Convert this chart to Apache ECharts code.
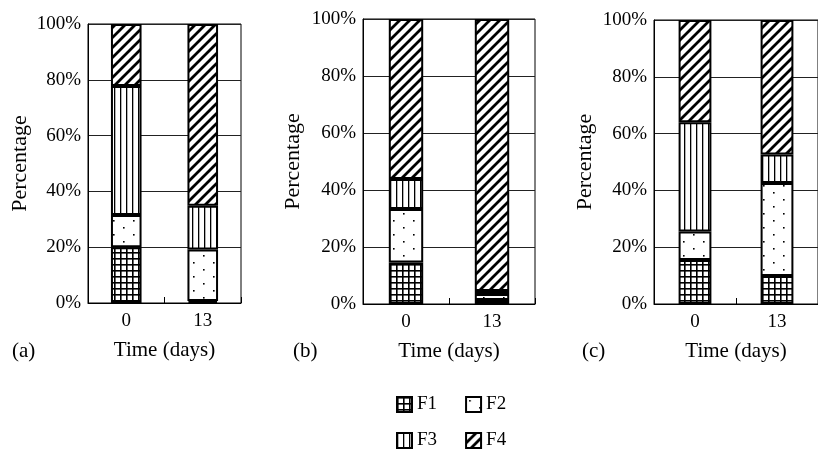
<!DOCTYPE html>
<html>
<head>
<meta charset="utf-8">
<script src="https://cdn.jsdelivr.net/npm/echarts@6/dist/echarts.min.js"></script>
<style>
html,body{margin:0;padding:0;background:#fff;}
#chart{width:818px;height:453px;}
</style>
</head>
<body>
<div id="chart"></div>
<script>
// ---- data ----
var categories = ['0', '13'];
var yTicks = ['0%', '20%', '40%', '60%', '80%', '100%'];
var panelLabels = ['(a)', '(b)', '(c)'];
var fractionNames = ['F1', 'F2', 'F3', 'F4'];
// panel (a)
var a_F1 = [20.0, 0.7];
var a_F2 = [11.5, 18.5];
var a_F3 = [46.3, 15.7];
var a_F4 = [22.2, 65.1];
// panel (b)
var b_F1 = [14.6, 1.4];
var b_F2 = [18.7, 2.1];
var b_F3 = [10.6, 1.1];
var b_F4 = [56.1, 95.4];
// panel (c)
var c_F1 = [15.5, 9.9];
var c_F2 = [10.0, 32.7];
var c_F3 = [38.5, 10.0];
var c_F4 = [36.0, 47.4];

var panels = [
  [a_F1, a_F2, a_F3, a_F4],
  [b_F1, b_F2, b_F3, b_F4],
  [c_F1, c_F2, c_F3, c_F4]
];

// ---- patterns ----
function makeCanvas(w, h) {
  var c = document.createElement('canvas');
  c.width = w; c.height = h;
  var ctx = c.getContext('2d');
  ctx.fillStyle = '#fff';
  ctx.fillRect(0, 0, w, h);
  ctx.fillStyle = '#000';
  ctx.strokeStyle = '#000';
  return [c, ctx];
}
function patGrid() {
  var r = makeCanvas(6, 6), ctx = r[1];
  ctx.fillRect(0, 0, 6, 1.6);
  ctx.fillRect(0, 0, 1.6, 6);
  return r[0];
}
function patDots() {
  var r = makeCanvas(20, 14), ctx = r[1];
  ctx.fillRect(3, 3, 1.6, 1.6);
  ctx.fillRect(13, 10, 1.6, 1.6);
  return r[0];
}
function patVert() {
  var r = makeCanvas(6, 6), ctx = r[1];
  ctx.fillRect(0, 0, 1.3, 6);
  return r[0];
}
function patDiag() {
  var r = makeCanvas(10, 10), ctx = r[1];
  ctx.lineWidth = 2.8;
  ctx.beginPath();
  ctx.moveTo(-2, 12); ctx.lineTo(12, -2);
  ctx.moveTo(-2, 2); ctx.lineTo(2, -2);
  ctx.moveTo(8, 12); ctx.lineTo(12, 8);
  ctx.stroke();
  return r[0];
}
var patterns = [patGrid(), patDots(), patVert(), patDiag()];

var FONT = '"Liberation Serif", "Times New Roman", serif';

// ---- layout ----
var gridPos = [
  {left: 88, right: 577, top: 24, bottom: 150},
  {left: 363, right: 283, top: 19, bottom: 149},
  {left: 654, right: -8, top: 20, bottom: 149}
];
var yNameGap = [57, 59, 58];
var labelLeft = [7, 288, 577];

var grids = [], xAxes = [], yAxes = [], series = [], titles = [];
for (var p = 0; p < 3; p++) {
  grids.push(Object.assign({
    show: true, borderColor: '#000', borderWidth: 1, backgroundColor: 'transparent', containLabel: false
  }, gridPos[p]));
  xAxes.push({
    type: 'category', gridIndex: p, data: categories,
    name: 'Time (days)', nameLocation: 'middle', nameGap: 37,
    nameTextStyle: {fontFamily: FONT, fontSize: 21, color: '#000'},
    axisLine: {lineStyle: {color: '#000', width: 1}},
    axisTick: {show: true, inside: true, length: 6, lineStyle: {color: '#000'}},
    axisLabel: {fontFamily: FONT, fontSize: 19, color: '#000', margin: 9}
  });
  yAxes.push({
    type: 'value', gridIndex: p, min: 0, max: 100, interval: 20,
    name: 'Percentage', nameLocation: 'middle', nameGap: yNameGap[p],
    nameTextStyle: {fontFamily: FONT, fontSize: 22, color: '#000'},
    axisLine: {show: true, lineStyle: {color: '#000', width: 1}},
    axisTick: {show: false},
    axisLabel: {fontFamily: FONT, fontSize: 19, color: '#000', margin: 7,
      formatter: function (v) { return yTicks[Math.round(v / 20)]; }},
    splitLine: {show: true, lineStyle: {color: '#222', width: 1}}
  });
  for (var k = 0; k < 4; k++) {
    series.push({
      type: 'bar', name: fractionNames[k], stack: 'panel' + p,
      xAxisIndex: p, yAxisIndex: p, barWidth: '40%',
      data: panels[p][k],
      itemStyle: {color: {image: patterns[k], repeat: 'repeat'}, borderColor: '#000', borderWidth: 2},
      emphasis: {disabled: true},
      animation: false
    });
  }
  titles.push({
    text: panelLabels[p], left: labelLeft[p], top: 336,
    textStyle: {fontFamily: FONT, fontSize: 21, fontWeight: 'normal', color: '#000'}
  });
}

var legendCommon = {
  icon: 'rect', itemWidth: 15, itemHeight: 15, itemGap: 28,
  textStyle: {fontFamily: FONT, fontSize: 19, color: '#000'},
  itemStyle: {borderColor: '#000', borderWidth: 2},
  selectedMode: false
};
var legends = [
  Object.assign({data: ['F1', 'F2'], left: 391, top: 390}, legendCommon),
  Object.assign({data: ['F3', 'F4'], left: 391, top: 426}, legendCommon)
];

var chart = echarts.init(document.getElementById('chart'), null, {renderer: 'canvas'});
chart.setOption({
  animation: false,
  backgroundColor: '#fff',
  title: titles,
  grid: grids,
  xAxis: xAxes,
  yAxis: yAxes,
  legend: legends,
  series: series
});
</script>
</body>
</html>
